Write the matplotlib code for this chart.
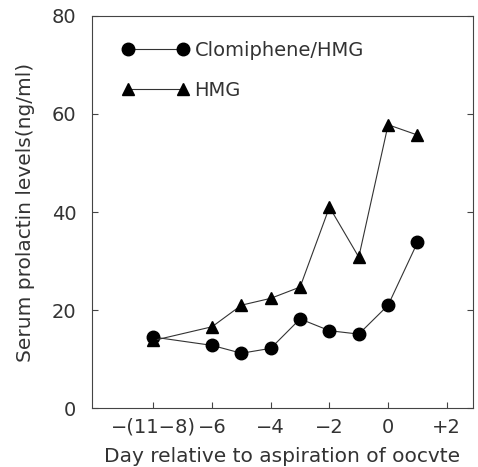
import matplotlib
matplotlib.use("Agg")
import matplotlib.pyplot as plt

days = [-8, -6, -5, -4, -3, -2, -1, 0, 1]
clomiphene_hmg = [14.5, 12.8, 11.2, 12.2, 18.2, 15.8, 15.1, 21.0, 33.8]
hmg = [13.8, 16.6, 21.0, 22.4, 24.7, 41.0, 30.8, 57.8, 55.7]
xtick_pos = [-8, -6, -4, -2, 0, 2]
xtick_labels = ["\u2212(11\u22128)", "\u22126", "\u22124", "\u22122", "0", "+2"]
ytick_pos = [0, 20, 40, 60, 80]

plt.rcParams['font.family'] = ['DejaVu Sans']
fig = plt.figure(figsize=(4.78, 4.67), dpi=100)
ax = fig.add_axes([0.192, 0.126, 0.798, 0.840])

lc = '#333333'
ax.plot(days, clomiphene_hmg, color=lc, lw=0.8, marker='o', ms=9,
        mfc='black', mec='black', label='Clomiphene/HMG')
ax.plot(days, hmg, color=lc, lw=0.8, marker='^', ms=9,
        mfc='black', mec='black', label='HMG')

ax.set_xlim(-10.1, 2.9)
ax.set_ylim(0, 80)
ax.set_xticks(xtick_pos)
ax.set_xticklabels(xtick_labels)
ax.set_yticks(ytick_pos)
ax.tick_params(direction='in', length=4, width=0.8, colors='#444444',
               labelsize=14, labelcolor='#333333', right=True)
ax.tick_params(axis='y', pad=11)
ax.tick_params(axis='x', pad=7)
for s in ax.spines.values():
    s.set_linewidth(0.8)
    s.set_color('#444444')

ax.set_xlabel("Day relative to aspiration of oocvte", fontsize=14.5,
              color='#333333', labelpad=7)
ax.set_ylabel("Serum prolactin levels(ng/ml)", fontsize=14.5,
              color='#333333', labelpad=12)

leg = ax.legend(loc='upper left', frameon=False, numpoints=2, handlelength=3.4,
                fontsize=14, bbox_to_anchor=(0.035, 0.98), labelspacing=1.05,
                handletextpad=0.3)
for t in leg.get_texts():
    t.set_color('#333333')

fig.savefig("out.png", dpi=100)
